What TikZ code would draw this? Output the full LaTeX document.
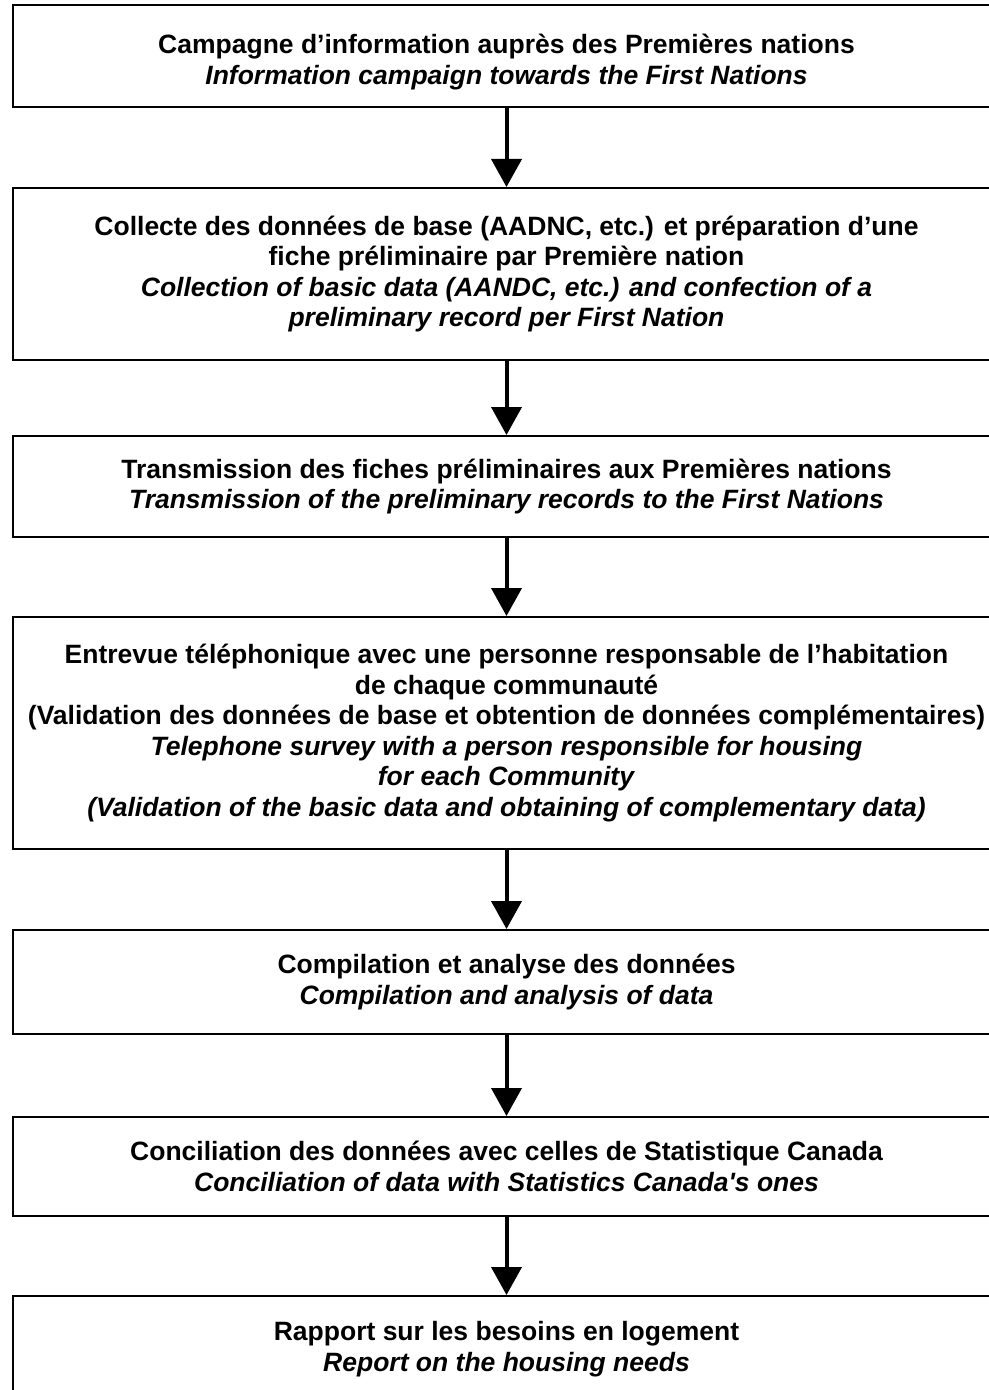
\documentclass[tikz,border=0pt]{standalone}
\usepackage{fontspec}
\setmainfont{Liberation Sans}
\usetikzlibrary{arrows.meta}

\tikzset{
    etape/.style={draw=black, line width=1pt, minimum width=493.5pt,
        align=center, inner sep=0pt,
        font=\fontsize{13.25pt}{15.25pt}\selectfont\bfseries},
    fleche/.style={-{Triangle[width=15pt,length=14pt]}, line width=2pt}
}

\begin{document}
\begin{tikzpicture}[x=0.5pt,y=-0.5pt]
        \useasboundingbox (0,0) rectangle (989,1390);
        \clip (0,0) rectangle (989,1390);

        \coordinate (C1) at (506.5,   56);
        \coordinate (C2) at (506.5,  274);
        \coordinate (C3) at (506.5,  486.5);
        \coordinate (C4) at (506.5,  733);
        \coordinate (C5) at (506.5,  982);
        \coordinate (C6) at (506.5, 1166.5);
        \coordinate (C7) at (506.5, 1349);

        \node[etape, minimum height=51pt] (E1) at (C1)
            {\rule{0pt}{16pt}Campagne d’information auprès des Premières nations\\
             \textit{Information campaign towards the First Nations}};

        \node[etape, minimum height=86pt] (E2) at (C2)
            {Collecte des données de base (AADNC, etc.) et préparation d’une\\
             fiche préliminaire par Première nation\\
             \textit{Collection of basic data (AANDC, etc.) and confection of a}\\
             \textit{preliminary record per First Nation}};

        \node[etape, minimum height=50.5pt] (E3) at (C3)
            {Transmission des fiches préliminaires aux Premières nations\\
             \textit{Transmission of the preliminary records to the First Nations}};

        \node[etape, minimum height=116pt] (E4) at (C4)
            {Entrevue téléphonique avec une personne responsable de l’habitation\\
             de chaque communauté\\
             (Validation des données de base et obtention de données complémentaires)\\
             \textit{Telephone survey with a person responsible for housing}\\
             \textit{for each Community}\\
             \textit{(Validation of the basic data and obtaining of complementary data)}};

        \node[etape, minimum height=52pt] (E5) at (C5)
            {Compilation et analyse des données\\
             \textit{Compilation and analysis of data}};

        \node[etape, minimum height=49.5pt] (E6) at (C6)
            {Conciliation des données avec celles de Statistique Canada\\
             \textit{Conciliation of data with Statistics Canada\textquotesingle s ones}};

        \node[etape, minimum height=53pt] (E7) at (C7)
            {Rapport sur les besoins en logement\\
             \textit{Report on the housing needs}};

        \draw[fleche] (E1) -- (E2);
        \draw[fleche] (E2) -- (E3);
        \draw[fleche] (E3) -- (E4);
        \draw[fleche] (E4) -- (E5);
        \draw[fleche] (E5) -- (E6);
        \draw[fleche] (E6) -- (E7);
    \end{tikzpicture}
\end{document}
